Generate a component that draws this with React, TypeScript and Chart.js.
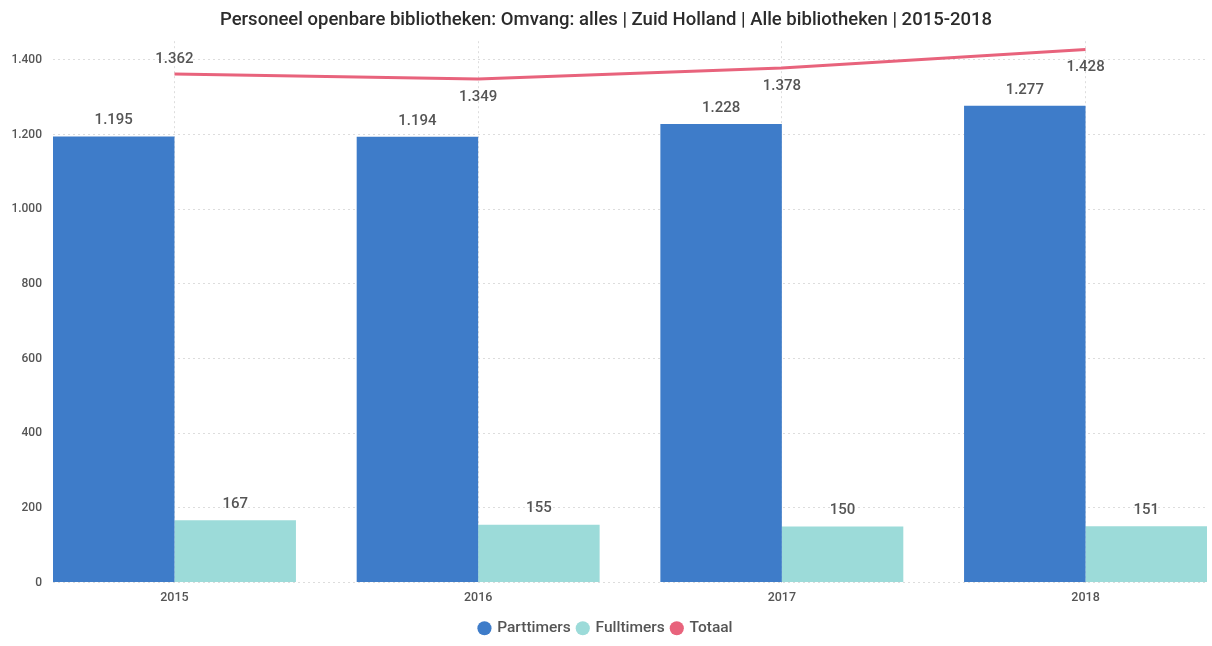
import React, { useEffect, useRef } from 'react';
import { Chart, registerables } from 'chart.js';

Chart.register(...registerables);

const categories = ['2015', '2016', '2017', '2018'];
const parttimers = [1195, 1194, 1228, 1277];
const fulltimers = [167, 155, 150, 151];
const totaal = [1362, 1349, 1378, 1428];
const yTicks = [0, 200, 400, 600, 800, 1000, 1200, 1400];

const titleText = 'Personeel openbare bibliotheken: Omvang: alles | Zuid Holland | Alle bibliotheken | 2015-2018';

const fmt = (n: number) => String(n).replace(/\B(?=(\d{3})+(?!\d))/g, '.');

const FONT = 'Roboto, "DejaVu Sans", sans-serif';
const CAT_PCT = 0.8;

const labelPlugin = {
  id: 'valueLabels',
  afterDatasetsDraw(chart: any) {
    const ctx = chart.ctx;
    ctx.save();
    ctx.font = `500 15px ${FONT}`;
    ctx.fillStyle = '#555555';
    ctx.textAlign = 'center';
    ctx.textBaseline = 'middle';
    chart.data.datasets.forEach((ds: any, di: number) => {
      const meta = chart.getDatasetMeta(di);
      meta.data.forEach((el: any, i: number) => {
        const v = ds.data[i];
        if (ds.type === 'line') {
          const dy = i === 0 ? -15 : 18;
          ctx.fillText(fmt(v), el.x, el.y + dy);
        } else {
          ctx.fillText(fmt(v), el.x, el.y - 16);
        }
      });
    });
    ctx.restore();
  },
};

// Power BI style: no outer gap before the first and after the last bar group
const edgePlugin = {
  id: 'edgeToEdge',
  afterLayout(chart: any) {
    const x = chart.scales.x;
    const n = chart.data.labels.length;
    const gap = 1 - CAT_PCT;
    const ext = (x.width * (gap / 2)) / (n - gap);
    x._startPixel = x.left - ext;
    x._endPixel = x.right + ext;
    x._length = x.width + 2 * ext;
  },
};

export default function App() {
  const ref = useRef<HTMLCanvasElement>(null);
  useEffect(() => {
    document.body.style.margin = '0';
    const chart = new Chart(ref.current as HTMLCanvasElement, {
      type: 'bar',
      data: {
        labels: categories,
        datasets: [
          {
            type: 'bar',
            label: 'Parttimers',
            data: parttimers,
            backgroundColor: '#3E7CC9',
            categoryPercentage: CAT_PCT,
            barPercentage: 1.0,
          },
          {
            type: 'bar',
            label: 'Fulltimers',
            data: fulltimers,
            backgroundColor: '#9CDBD9',
            categoryPercentage: CAT_PCT,
            barPercentage: 1.0,
          },
          {
            type: 'line',
            label: 'Totaal',
            data: totaal,
            borderColor: '#E8637C',
            backgroundColor: '#E8637C',
            borderWidth: 3,
            pointRadius: 0,
            tension: 0,
          } as any,
        ],
      },
      options: {
        animation: false,
        responsive: true,
        maintainAspectRatio: false,
        layout: { padding: { left: 5, right: 5, top: 0, bottom: 0 } },
        plugins: {
          title: {
            display: true,
            text: titleText,
            color: '#2b2b2b',
            font: { family: FONT, size: 18.5, weight: 500 as any },
            padding: { top: 9, bottom: 10 },
          },
          legend: {
            position: 'bottom',
            labels: {
              usePointStyle: true,
              pointStyle: 'circle',
              boxWidth: 10,
              boxHeight: 10,
              padding: 7,
              color: '#555555',
              font: { family: FONT, size: 15.5, weight: 500 as any },
              generateLabels: (chart: any) =>
                chart.data.datasets.map((ds: any, i: number) => ({
                  text: ds.label,
                  fillStyle: ds.backgroundColor,
                  strokeStyle: ds.backgroundColor,
                  lineWidth: 0,
                  pointStyle: 'circle',
                  datasetIndex: i,
                  hidden: false,
                  fontColor: '#555555',
                })),
            },
          },
          tooltip: { enabled: false },
        },
        scales: {
          x: {
            grid: {
              display: true,
              offset: false,
              drawTicks: false,
              color: '#dddddd',
              lineWidth: 1,
            },
            border: { display: false, dash: [2, 3] },
            ticks: { color: '#555555', font: { family: FONT, size: 12.5, weight: 500 as any }, padding: 8 },
          },
          y: {
            min: 0,
            max: 1450,
            afterBuildTicks: (axis: any) => {
              axis.ticks = yTicks.map((v) => ({ value: v }));
            },
            afterFit: (axis: any) => {
              axis.width = 48;
            },
            grid: { color: '#dddddd', lineWidth: 1, drawTicks: false },
            border: { display: false, dash: [2, 3] },
            ticks: {
              color: '#555555',
              font: { family: FONT, size: 12, weight: 500 as any },
              padding: 11,
              callback: (v: any) => fmt(Number(v)),
            },
          },
        },
      },
      plugins: [labelPlugin, edgePlugin],
    });
    return () => chart.destroy();
  }, []);
  return (
    <div style={{ position: 'fixed', left: 0, top: 0, width: 1212, height: 646 }}>
      <canvas ref={ref} />
    </div>
  );
}
